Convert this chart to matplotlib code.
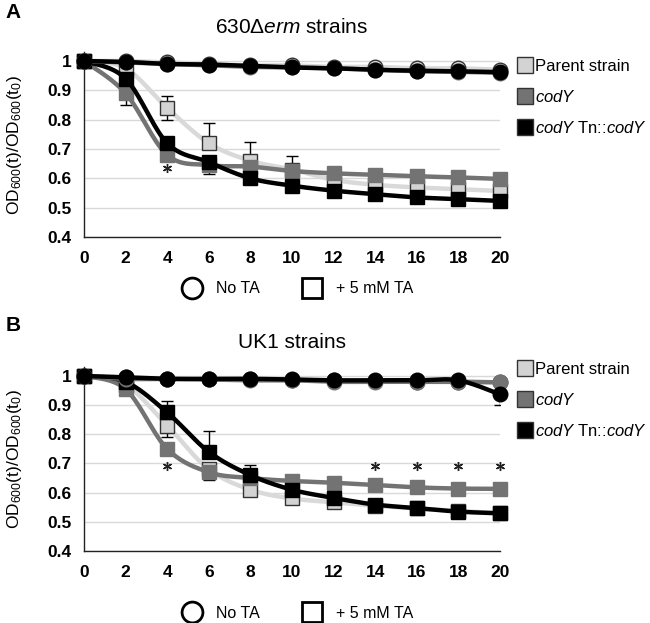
import numpy as np
import matplotlib
matplotlib.use("Agg")
import matplotlib.pyplot as plt
from matplotlib.lines import Line2D

plt.rcParams['font.family'] = ['Liberation Sans', 'DejaVu Sans']
plt.rcParams['mathtext.fontset'] = 'custom'
plt.rcParams['mathtext.rm'] = 'Liberation Sans'
plt.rcParams['mathtext.it'] = 'Liberation Sans:italic'
plt.rcParams['mathtext.bf'] = 'Liberation Sans:bold'

# ---------------- data ----------------
hours = [0, 2, 4, 6, 8, 10, 12, 14, 16, 18, 20]
x_ticks = [0, 2, 4, 6, 8, 10, 12, 14, 16, 18, 20]
y_ticks = [0.4, 0.5, 0.6, 0.7, 0.8, 0.9, 1.0]
y_ticklabels = ['0.4', '0.5', '0.6', '0.7', '0.8', '0.9', '1']
strain_labels = ['Parent strain', r'$\it{codY}$', r'$\it{codY}$ Tn::$\it{codY}$']
condition_labels = ['No TA', '+ 5 mM TA']
titles = [r'630Δ$\it{erm}$ strains', 'UK1 strains']
panel_letters = ['A', 'B']

# Panel A (630Δerm) — No TA (circles)
A_parent_noTA = [1.00, 1.00, 0.995, 0.99, 0.985, 0.985, 0.98, 0.98, 0.975, 0.975, 0.97]
A_codY_noTA = [1.00, 0.995, 0.99, 0.985, 0.98, 0.978, 0.975, 0.97, 0.965, 0.963, 0.96]
A_comp_noTA = [1.00, 0.997, 0.99, 0.988, 0.983, 0.978, 0.975, 0.97, 0.967, 0.965, 0.962]
# Panel A — +5 mM TA (squares)
A_parent_TA = [1.00, 0.975, 0.84, 0.72, 0.66, 0.63, 0.595, 0.578, 0.569, 0.563, 0.557]
A_codY_TA = [1.00, 0.89, 0.68, 0.645, 0.64, 0.625, 0.617, 0.612, 0.607, 0.603, 0.598]
A_comp_TA = [1.00, 0.94, 0.72, 0.655, 0.60, 0.575, 0.558, 0.546, 0.535, 0.529, 0.523]
# Panel A error bars (lower, upper)
A_parent_TA_err_lo = [0, 0, 0.04, 0, 0, 0, 0, 0, 0, 0, 0]
A_parent_TA_err_hi = [0, 0, 0.04, 0.07, 0.065, 0.047, 0.025, 0, 0, 0, 0]
A_codY_TA_err_lo = [0, 0.04, 0, 0.03, 0, 0, 0, 0, 0, 0, 0]
A_codY_TA_err_hi = [0, 0, 0, 0, 0, 0, 0, 0, 0, 0, 0]
A_comp_TA_err_lo = [0, 0, 0, 0, 0, 0, 0, 0, 0, 0, 0]
A_comp_TA_err_hi = [0, 0, 0, 0, 0, 0, 0, 0, 0, 0, 0]
A_comp_noTA_err_lo = [0, 0, 0, 0, 0, 0, 0, 0, 0, 0, 0]
A_star_x = [4]
A_star_y = [0.635]

# Panel B (UK1) — No TA (circles)
B_parent_noTA = [1.00, 0.995, 0.99, 0.99, 0.988, 0.985, 0.985, 0.983, 0.98, 0.98, 0.978]
B_codY_noTA = [1.00, 0.99, 0.99, 0.988, 0.985, 0.985, 0.98, 0.98, 0.98, 0.98, 0.978]
B_comp_noTA = [1.00, 0.995, 0.99, 0.99, 0.99, 0.988, 0.985, 0.985, 0.985, 0.985, 0.937]
# Panel B — +5 mM TA (squares)
B_parent_TA = [1.00, 0.97, 0.83, 0.68, 0.61, 0.58, 0.567, 0.555, 0.546, 0.537, 0.53]
B_codY_TA = [1.00, 0.955, 0.75, 0.67, 0.65, 0.64, 0.634, 0.626, 0.618, 0.614, 0.613]
B_comp_TA = [1.00, 0.98, 0.875, 0.74, 0.66, 0.61, 0.582, 0.559, 0.547, 0.535, 0.529]
B_parent_TA_err_lo = [0, 0, 0.04, 0, 0, 0, 0, 0, 0, 0, 0]
B_parent_TA_err_hi = [0, 0, 0, 0, 0, 0, 0, 0, 0, 0, 0]
B_codY_TA_err_lo = [0, 0, 0, 0.025, 0, 0, 0, 0, 0, 0, 0]
B_codY_TA_err_hi = [0, 0, 0, 0, 0, 0, 0, 0, 0, 0, 0]
B_comp_TA_err_lo = [0, 0, 0, 0, 0, 0, 0, 0, 0, 0, 0]
B_comp_TA_err_hi = [0, 0, 0.04, 0.07, 0.035, 0, 0, 0, 0, 0, 0]
B_comp_noTA_err_lo = [0, 0, 0, 0, 0, 0, 0, 0, 0, 0, 0.037]
B_star_x = [4, 14, 16, 18, 20]
B_star_y = [0.692, 0.692, 0.692, 0.692, 0.692]

# ---------------- style ----------------
C_LIGHT = '#d3d3d3'
C_LIGHT_LINE = '#d9d9d9'
C_DARK = '#737373'
C_BLACK = '#000000'


def smooth(x, y, n=20):
    """Catmull-Rom style smoothing (like Excel's smoothed line)."""
    x = np.asarray(x, float)
    y = np.asarray(y, float)
    P = np.column_stack([x, y])
    P = np.vstack([P[0], P, P[-1]])
    out = []
    t = np.linspace(0, 1, n)
    for i in range(1, len(P) - 2):
        p0, p1, p2, p3 = P[i - 1], P[i], P[i + 1], P[i + 2]
        b1 = p1 + (p2 - p0) / 6.0
        b2 = p2 - (p3 - p1) / 6.0
        seg = ((1 - t) ** 3)[:, None] * p1 + (3 * (1 - t) ** 2 * t)[:, None] * b1 \
            + (3 * (1 - t) * t ** 2)[:, None] * b2 + (t ** 3)[:, None] * p2
        out.append(seg)
    seg = np.vstack(out)
    return seg[:, 0], seg[:, 1]


def series(ax, y, color, line_color, marker, edge, lo=None, hi=None, z=3):
    sx, sy = smooth(hours, y)
    ax.plot(sx, sy, color=line_color, lw=3.2, zorder=z, solid_capstyle='round',
            clip_on=False)
    if lo is not None or hi is not None:
        lo = np.zeros(len(hours)) if lo is None else np.asarray(lo)
        hi = np.zeros(len(hours)) if hi is None else np.asarray(hi)
        mask = (lo > 0) | (hi > 0)
        xs = np.asarray(hours)[mask]
        ys = np.asarray(y)[mask]
        ax.errorbar(xs, ys, yerr=[lo[mask], hi[mask]], fmt='none', ecolor='black',
                    elinewidth=1.0, capsize=4, capthick=1.0, zorder=z - 0.5)
    ax.plot(hours, y, linestyle='none', marker=marker, markersize=10.5,
            markerfacecolor=color, markeredgecolor=edge, markeredgewidth=1.0,
            zorder=z + 0.1, clip_on=False)


fig = plt.figure(figsize=(6.5, 6.23), dpi=100)

panels = [
    dict(pos=[0.1292, 0.6196, 0.6400, 0.2966],
         noTA=(A_parent_noTA, A_codY_noTA, A_comp_noTA),
         TA=(A_parent_TA, A_codY_TA, A_comp_TA),
         err=((A_parent_TA_err_lo, A_parent_TA_err_hi),
              (A_codY_TA_err_lo, A_codY_TA_err_hi),
              (A_comp_TA_err_lo, A_comp_TA_err_hi)),
         comp_noTA_lo=A_comp_noTA_err_lo,
         stars=(A_star_x, A_star_y),
         letter_y=0.980, leg_y=0.755, bot_y=-0.281),
    dict(pos=[0.1292, 0.1156, 0.6400, 0.2950],
         noTA=(B_parent_noTA, B_codY_noTA, B_comp_noTA),
         TA=(B_parent_TA, B_codY_TA, B_comp_TA),
         err=((B_parent_TA_err_lo, B_parent_TA_err_hi),
              (B_codY_TA_err_lo, B_codY_TA_err_hi),
              (B_comp_TA_err_lo, B_comp_TA_err_hi)),
         comp_noTA_lo=B_comp_noTA_err_lo,
         stars=(B_star_x, B_star_y),
         letter_y=0.478, leg_y=0.818, bot_y=-0.3375),
]

fills = [C_LIGHT, C_DARK, C_BLACK]
lines = [C_LIGHT_LINE, C_DARK, C_BLACK]
edges = ['#333333', C_DARK, C_BLACK]

for k, p in enumerate(panels):
    ax = fig.add_axes(p['pos'])
    ax.set_xlim(0, 20)
    ax.set_ylim(0.4, 1.03)
    ax.set_yticks(y_ticks)
    ax.set_yticklabels(y_ticklabels)
    ax.set_xticks(x_ticks)
    ax.grid(axis='y', color='#d9d9d9', lw=1.0, zorder=0)
    ax.set_axisbelow(True)
    for s in ['top', 'right']:
        ax.spines[s].set_visible(False)
    for s in ['left', 'bottom']:
        ax.spines[s].set_color('#222222')
        ax.spines[s].set_linewidth(1.0)
    ax.tick_params(axis='y', length=0, pad=9, labelsize=12.5)
    ax.tick_params(axis='x', length=0, pad=10, labelsize=12.5)
    for lab in ax.get_xticklabels() + ax.get_yticklabels():
        lab.set_fontweight('bold')
    ax.set_ylabel(r'OD$_{600}$(t)/OD$_{600}$(t$_0$)', fontsize=12.5)
    ax.yaxis.set_label_coords(-0.143, 0.5)

    # squares (+TA)
    for i in range(3):
        lo, hi = p['err'][i]
        series(ax, p['TA'][i], fills[i], lines[i], 's', edges[i], lo, hi, z=3 + i)
    # circles (No TA)
    for i in range(3):
        lo = p['comp_noTA_lo'] if i == 2 else None
        series(ax, p['noTA'][i], fills[i], lines[i], 'o', edges[i] if i else '#333333',
               lo, None, z=7 + i)

    sx, sy = p['stars']
    ax.plot(sx, sy, linestyle='none', marker=(6, 2, 0), markersize=6.5,
            markeredgewidth=1.0, color='#222222', zorder=12, clip_on=False)

    ax.set_title(titles[k], fontsize=15, pad=14, x=0.5)
    fig.text(0.008, p['letter_y'], panel_letters[k],
             fontsize=15, fontweight='bold', ha='left', va='center')

    # right legend (strains)
    hs = [Line2D([], [], linestyle='none', marker='s', markersize=11,
                 markerfacecolor=fills[i], markeredgecolor='#333333', markeredgewidth=1.0)
          for i in range(3)]
    leg = ax.legend(hs, strain_labels, loc='center left', bbox_to_anchor=(1.043, p['leg_y']),
                    frameon=False, fontsize=12, handlelength=0.85, handletextpad=0.15,
                    labelspacing=0.9, borderaxespad=0, borderpad=0)
    ax.add_artist(leg)

    # bottom legend (conditions)
    hc = [Line2D([], [], linestyle='none', marker='o', markersize=15,
                 markerfacecolor='white', markeredgecolor='black', markeredgewidth=2.0),
          Line2D([], [], linestyle='none', marker='s', markersize=15,
                 markerfacecolor='white', markeredgecolor='black', markeredgewidth=2.0)]
    ax.legend(hc, condition_labels, loc='center', bbox_to_anchor=(0.514, p['bot_y']),
              ncol=2, frameon=False, fontsize=11.5, handlelength=1.2,
              handletextpad=0.9, columnspacing=2.7, borderpad=0, borderaxespad=0)

fig.savefig('out.png', dpi=100)
